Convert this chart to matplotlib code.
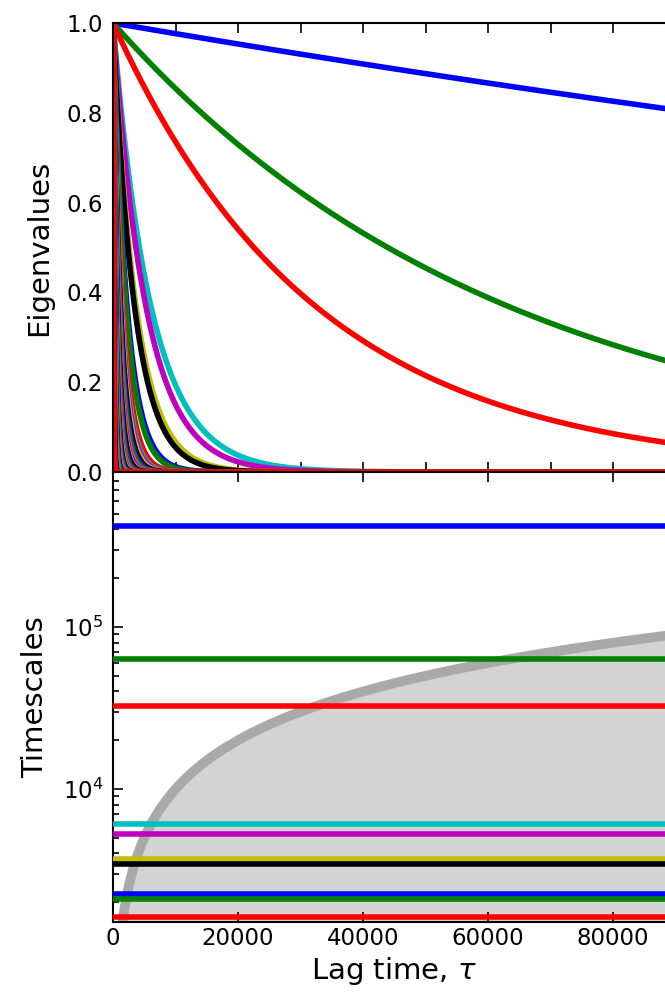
import numpy as np
import matplotlib.pyplot as plt

# slowest implied timescales, descending
timescales = [418000, 63400, 32500, 6080, 5270, 3700, 3440, 2250, 2095, 1620]
# faster processes, only visible as the bundle near tau=0 in the upper panel
fast_timescales = [1450, 1380, 1290, 1200, 1130, 1050, 980, 920, 870, 800,
                   760, 700, 650, 610, 560, 520, 480, 450, 420, 390,
                   360, 330, 300, 280, 260, 240, 220, 200, 180, 160,
                   140, 120, 100, 80, 60]
colors = ['b', 'g', 'r', 'c', 'm', 'y', 'k']

lag_max = 90000
lag = np.linspace(0, lag_max, 3601)
all_ts = timescales + fast_timescales

fig = plt.figure(figsize=(6.65, 9.93), dpi=100)
# the original figure is cropped on the right, so the axes run past the edge
ax1 = fig.add_axes([0.170, 0.5247, 0.846, 0.4521])
ax2 = fig.add_axes([0.170, 0.0715, 0.846, 0.4532])

# Eigenvalues
for i, t in enumerate(all_ts):
    ax1.plot(lag, np.exp(-lag / t), color=colors[i % 7], lw=4)
ax1.set_xlim(0, lag_max)
ax1.set_ylim(0, 1)
ax1.set_xticks(np.arange(0, lag_max + 1, 10000))
ax1.set_xticklabels([])
ax1.set_yticks([0, 0.2, 0.4, 0.6, 0.8, 1.0])
ax1.set_ylabel('Eigenvalues', fontsize=21, labelpad=10)

# Timescales
ax2.fill_between(lag, lag, 1, color='lightgray', zorder=1)
ax2.plot(lag, lag, color='darkgray', lw=7, zorder=2)
for i, t in enumerate(timescales):
    ax2.plot([0, lag_max], [t, t], color=colors[i % 7], lw=4, zorder=3)
ax2.set_yscale('log')
ax2.set_xlim(0, lag_max)
ax2.set_ylim(1510, 906000)
ax2.set_xticks(np.arange(0, 80001, 20000))
ax2.set_ylabel('Timescales', fontsize=21, labelpad=10)
ax2.set_xlabel(r'Lag time, $\tau$', fontsize=21)

for ax in (ax1, ax2):
    ax.tick_params(which='both', direction='in', top=True, right=True,
                   labelsize=16.5, width=1.2)
    ax.tick_params(which='major', length=7)
    ax.tick_params(which='minor', length=4)
    ax.tick_params(axis='y', pad=7)
    for s in ax.spines.values():
        s.set_linewidth(1.5)

fig.savefig('out.png', dpi=100)
